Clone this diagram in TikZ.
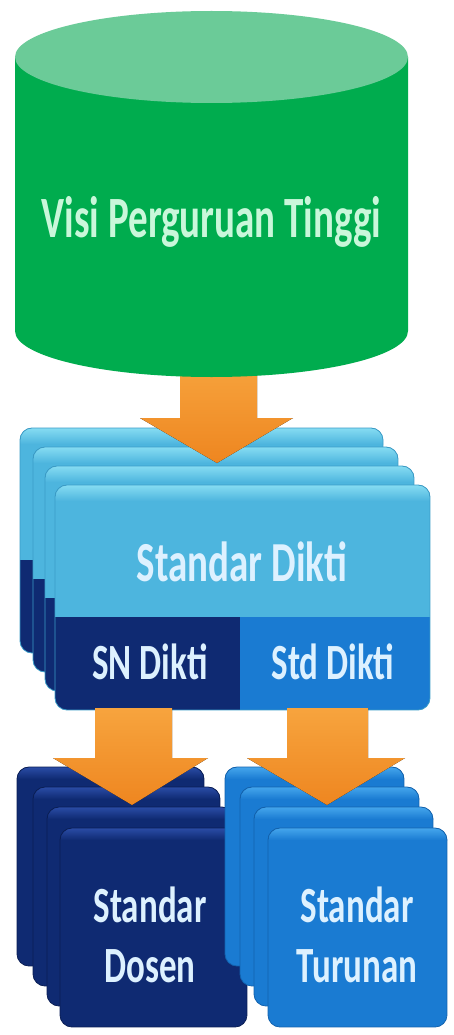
\documentclass[tikz,border=0pt]{standalone}
\usepackage{fontspec}
\setmainfont{Carlito}
\definecolor{grn}{HTML}{00AC4E}
\definecolor{grntop}{HTML}{6BCB98}
\definecolor{grntxt}{HTML}{C9F7DA}
\definecolor{lbbot}{HTML}{4DB5DE}
\definecolor{lbhi}{HTML}{86DCF2}
\definecolor{lbedge}{HTML}{3A9CC8}
\definecolor{navy}{HTML}{0F2A72}
\definecolor{navyhi}{HTML}{2A4CA6}
\definecolor{navyedge}{HTML}{0A1E55}
\definecolor{mblue}{HTML}{1A7BD2}
\definecolor{mbluehi}{HTML}{45A6EC}
\definecolor{mblueedge}{HTML}{1262AE}
\definecolor{txtb}{HTML}{DDF1FF}
\definecolor{orgtop}{HTML}{F7A43E}
\definecolor{orgbot}{HTML}{EE8620}
\newcommand\dlayer[3]{%
  \begin{scope}[shift={(#1,#2)}]
    \begin{scope}
      \clip[rounded corners=12] (0,0) rectangle (#3,225);
      \fill[lbbot] (0,0) rectangle (#3,132);
      \fill[top color=lbhi,bottom color=lbbot] (0,0) rectangle (#3,16);
      \fill[navy] (0,132) rectangle (185,225);
      \fill[mblue] (185,132) rectangle (#3,225);
    \end{scope}
    \draw[lbedge,line width=0.8,rounded corners=12] (0,0) rectangle (#3,225);
  \end{scope}}
\newcommand\slayer[6]{%
  \begin{scope}[shift={(#1,#2)}]
    \begin{scope}
      \clip[rounded corners=12] (0,0) rectangle (#3,199);
      \fill[#4] (0,0) rectangle (#3,199);
      \fill[top color=#5,bottom color=#4] (0,0) rectangle (#3,12);
    \end{scope}
    \draw[#6,line width=0.8,rounded corners=12] (0,0) rectangle (#3,199);
  \end{scope}}
\tikzset{
  lbl/.style={font=\bfseries\fontsize{35}{38}\selectfont, inner sep=0pt, align=center},
  biglbl/.style={lbl, font=\bfseries\fontsize{39}{42}\selectfont},
  blockarrow/.style={top color=orgtop, bottom color=orgbot, draw=none}
}
\begin{document}
\begin{tikzpicture}[x=1pt,y=-1pt]
\useasboundingbox (0,0) rectangle (454,1035);
\fill[white] (0,0) rectangle (454,1035);

% Standar Dikti stack
\dlayer{20}{428}{363}
\dlayer{33}{447}{365}
\dlayer{45}{466}{369}
\dlayer{55}{485}{375}

% bottom stacks
\slayer{17}{767}{187}{navy}{navyhi}{navyedge}
\slayer{33}{787}{187}{navy}{navyhi}{navyedge}
\slayer{47}{807}{187}{navy}{navyhi}{navyedge}
\slayer{60}{828}{187}{navy}{navyhi}{navyedge}
\slayer{225}{767}{179}{mblue}{mbluehi}{mblueedge}
\slayer{240}{787}{179}{mblue}{mbluehi}{mblueedge}
\slayer{254}{807}{179}{mblue}{mbluehi}{mblueedge}
\slayer{268}{828}{179}{mblue}{mbluehi}{mblueedge}

% arrows
\fill[blockarrow] (180,360) -- (257,360) -- (257,418) -- (293,418) -- (217,463) -- (140,418) -- (180,418) -- cycle;
\fill[blockarrow] (95,708) -- (172,708) -- (172,758) -- (208,758) -- (132,805) -- (53,758) -- (95,758) -- cycle;
\fill[blockarrow] (287,708) -- (368,708) -- (368,758) -- (405,758) -- (327,805) -- (247,758) -- (287,758) -- cycle;

% cylinder
\fill[grn] (15,57) -- (15,331) arc[start angle=180,end angle=0,x radius=196.5,y radius=46] -- (408,57) -- cycle;
\fill[grntop] (211.5,57) ellipse[x radius=196.5,y radius=46];

% labels
\node[biglbl,text=grntxt] (visi) at (211.5,222) {\scalebox{1}[1.5]{Visi Perguruan Tinggi}};
\node[biglbl,text=txtb] (stdikti) at (242,562) {\scalebox{1}[1.45]{Standar Dikti}};
\node[lbl,text=txtb] (sn) at (150,662) {\scalebox{1}[1.45]{SN Dikti}};
\node[lbl,text=txtb] (std) at (333,662) {\scalebox{1}[1.45]{Std Dikti}};
\node[lbl,text=txtb] (dosenA) at (150,905) {\scalebox{1}[1.45]{Standar}};
\node[lbl,text=txtb] (dosenB) at (150,966) {\scalebox{1}[1.45]{Dosen}};
\node[lbl,text=txtb] (turunanA) at (357,905) {\scalebox{1}[1.45]{Standar}};
\node[lbl,text=txtb] (turunanB) at (357,966) {\scalebox{1}[1.45]{Turunan}};
\end{tikzpicture}
\end{document}
